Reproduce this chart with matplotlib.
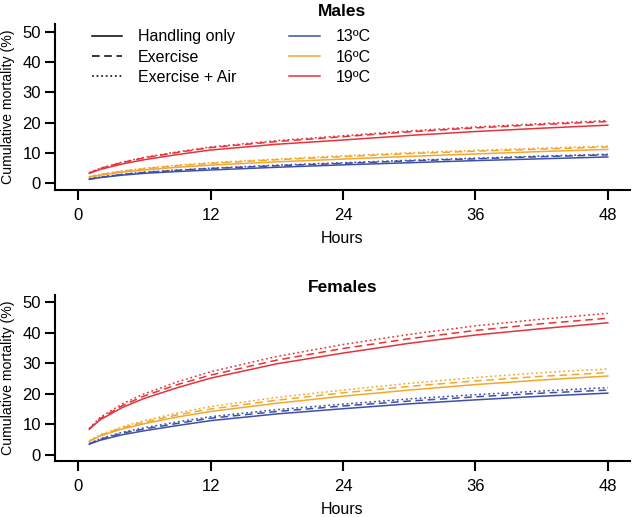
import numpy as np
import matplotlib
matplotlib.use("Agg")
import matplotlib.pyplot as plt
from matplotlib.lines import Line2D

plt.rcParams['font.family'] = ['Liberation Sans', 'DejaVu Sans']

hours = [1, 2, 4, 6, 9, 12, 18, 24, 30, 36, 42, 48]

temps = ['13ºC', '16ºC', '19ºC']
treatments = ['Handling only', 'Exercise', 'Exercise + Air']

# males: cumulative mortality (%)
male_13_handling = [1.3, 1.9, 2.7, 3.3, 3.9, 4.4, 5.3, 6.1, 6.8, 7.5, 8.1, 8.7]
male_13_exercise = [1.4, 2.0, 2.9, 3.6, 4.3, 4.9, 5.8, 6.6, 7.4, 8.1, 8.8, 9.4]
male_13_air = [1.4, 2.1, 3.0, 3.7, 4.4, 5.0, 6.0, 6.8, 7.6, 8.3, 9.0, 9.6]
male_16_handling = [2.0, 2.7, 3.7, 4.4, 5.3, 6.0, 7.1, 8.0, 8.9, 9.7, 10.5, 11.2]
male_16_exercise = [2.1, 2.9, 4.0, 4.8, 5.8, 6.6, 7.8, 8.8, 9.8, 10.6, 11.3, 12.0]
male_16_air = [2.2, 3.0, 4.1, 5.0, 6.0, 6.8, 8.0, 9.1, 10.1, 10.9, 11.6, 12.3]
male_19_handling = [3.3, 4.6, 6.4, 7.8, 9.5, 11.0, 12.9, 14.3, 15.8, 17.1, 18.2, 19.2]
male_19_exercise = [3.4, 4.9, 6.9, 8.4, 10.2, 11.8, 13.8, 15.4, 17.0, 18.3, 19.4, 20.4]
male_19_air = [3.5, 5.0, 7.0, 8.6, 10.4, 12.0, 14.1, 15.7, 17.3, 18.6, 19.7, 20.7]

# females
female_13_handling = [3.5, 4.8, 6.6, 7.9, 9.6, 11.2, 13.4, 15.1, 16.7, 18.0, 19.2, 20.2]
female_13_exercise = [3.6, 5.1, 7.1, 8.5, 10.3, 12.0, 14.2, 16.0, 17.6, 19.0, 20.2, 21.2]
female_13_air = [3.7, 5.3, 7.4, 8.9, 10.8, 12.5, 14.8, 16.6, 18.3, 19.7, 20.9, 22.0]
female_16_handling = [4.4, 6.2, 8.5, 10.2, 12.4, 14.2, 16.9, 19.2, 21.2, 23.0, 24.5, 25.8]
female_16_exercise = [4.5, 6.4, 8.9, 10.7, 13.1, 15.0, 17.9, 20.3, 22.4, 24.2, 25.7, 26.9]
female_16_air = [4.6, 6.6, 9.2, 11.2, 13.7, 15.8, 18.8, 21.2, 23.4, 25.3, 26.9, 28.1]
female_19_handling = [8.4, 11.5, 15.5, 18.5, 22.0, 25.1, 29.8, 33.3, 36.5, 39.2, 41.3, 43.2]
female_19_exercise = [8.5, 11.9, 16.1, 19.3, 23.0, 26.1, 31.0, 34.8, 38.0, 40.7, 42.9, 44.7]
female_19_air = [8.6, 12.3, 16.7, 20.0, 23.9, 27.2, 32.2, 36.1, 39.4, 42.2, 44.4, 46.3]

males = [[male_13_handling, male_13_exercise, male_13_air],
         [male_16_handling, male_16_exercise, male_16_air],
         [male_19_handling, male_19_exercise, male_19_air]]
females = [[female_13_handling, female_13_exercise, female_13_air],
           [female_16_handling, female_16_exercise, female_16_air],
           [female_19_handling, female_19_exercise, female_19_air]]

colors = ['#3d50a8', '#f3a82c', '#e6333a']
styles = ['-', (0, (5, 3)), (0, (1.2, 1.8))]

fig = plt.figure(figsize=(6.33, 5.17), dpi=100)
ax_m = fig.add_axes([0.0869, 0.6325, 0.9081, 0.3211])
ax_f = fig.add_axes([0.0869, 0.1083, 0.9081, 0.3211])


def draw(ax, data, title, ylim, pad):
    for ci, col in enumerate(data):
        for si, series in enumerate(col):
            ax.plot(hours, series, color=colors[ci], linestyle=styles[si], lw=1.1)
    ax.set_xlim(-2.1, 50.0)
    ax.set_ylim(*ylim)
    ax.set_xticks([0, 12, 24, 36, 48])
    ax.set_yticks([0, 10, 20, 30, 40, 50])
    for s in ['top', 'right']:
        ax.spines[s].set_visible(False)
    for s in ['left', 'bottom']:
        ax.spines[s].set_linewidth(1.5)
    ax.tick_params(width=1.5, length=7, labelsize=12)
    ax.tick_params(axis='y', pad=3)
    ax.tick_params(axis='x', pad=6)
    ax.set_xlabel('Hours', fontsize=11.5, labelpad=5.5)
    ax.set_ylabel('Cumulative mortality (%)', fontsize=10.2)
    ax.yaxis.set_label_coords(-0.07, 0.5)
    ax.set_title(title, fontsize=12.5, fontweight='bold', pad=pad)


draw(ax_m, males, 'Males', (-2.2, 52.6), 6)
draw(ax_f, females, 'Females', (-2.0, 52.3), 0)

handles = [Line2D([], [], color='black', linestyle=st, lw=1.1) for st in styles]
labels = list(treatments)
for c, t in zip(colors, temps):
    handles.append(Line2D([], [], color=c, lw=1.1))
    labels.append(t)
ax_m.legend(handles, labels, ncol=2, frameon=False, loc='upper left',
            bbox_to_anchor=(0.064, 0.968), fontsize=11.5, handlelength=1.9,
            handletextpad=1.0, columnspacing=3.3, labelspacing=0.33,
            borderpad=0, borderaxespad=0)

fig.savefig('out.png', dpi=100)
